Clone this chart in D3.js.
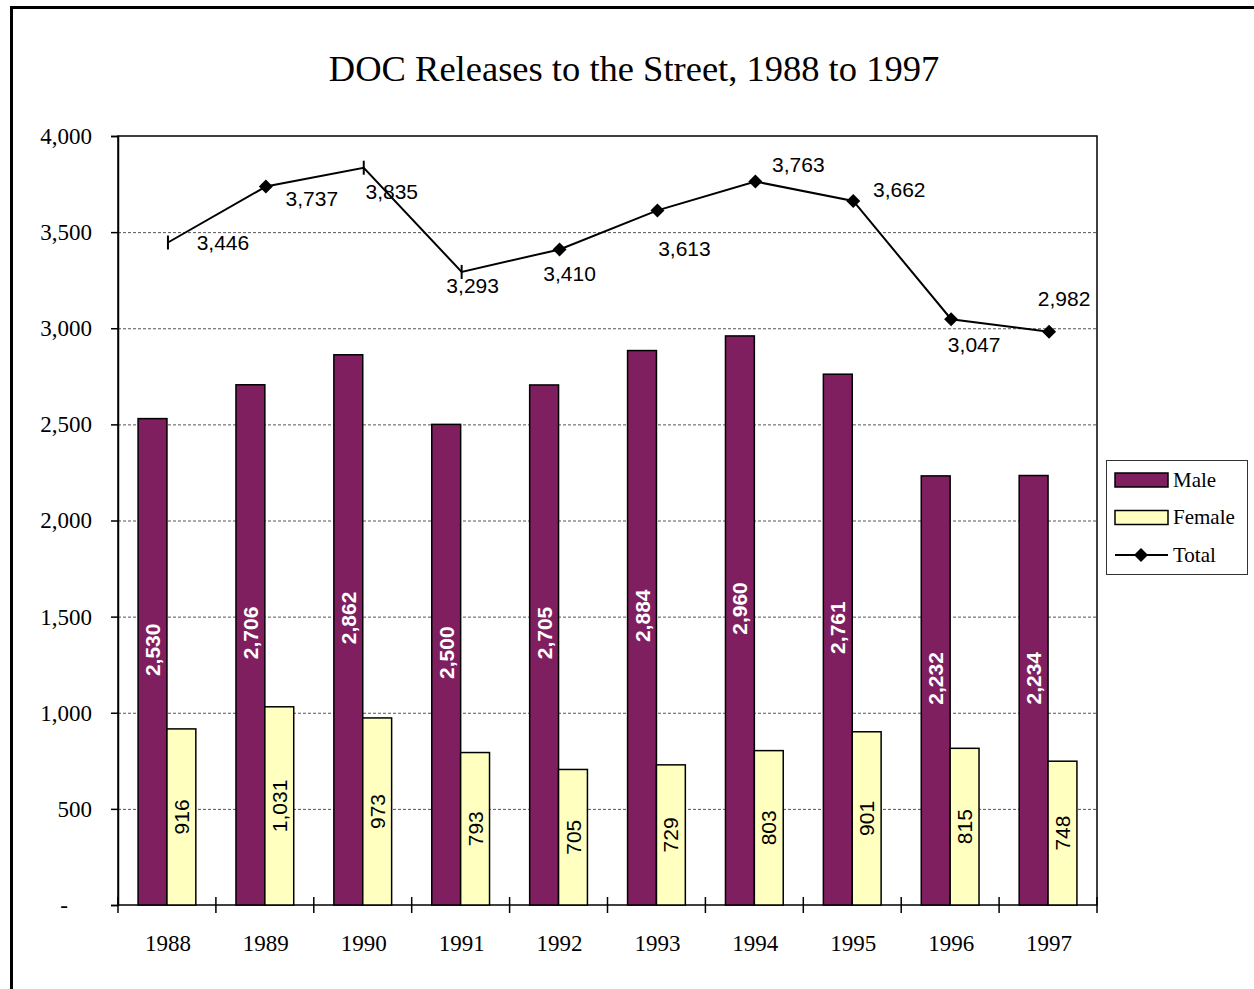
<!DOCTYPE html>
<html lang="en">
  <head>
    <meta charset="utf-8" />
    <script type="text/javascript" src="https://d3js.org/d3.v7.min.js"></script>
    <style>
      body { margin: 0; background: #fff; }
    </style>
  </head>

  <body>
    <script type="text/javascript">
      // data
      let years = ["1988", "1989", "1990", "1991", "1992", "1993", "1994", "1995", "1996", "1997"];
      let male = [2530, 2706, 2862, 2500, 2705, 2884, 2960, 2761, 2232, 2234];
      let female = [916, 1031, 973, 793, 705, 729, 803, 901, 815, 748];
      let total = [3446, 3737, 3835, 3293, 3410, 3613, 3763, 3662, 3047, 2982];
      let yTicks = [0, 500, 1000, 1500, 2000, 2500, 3000, 3500, 4000];

      let w = 1254;
      let h = 989;
      let plot = { left: 118, right: 1097, top: 136, bottom: 905 };

      let maleColor = "#7f1f5f";
      let femaleColor = "#ffffc0";
      let serif = "'Liberation Serif', 'Times New Roman', serif";
      let sans = "'Liberation Sans', Arial, sans-serif";
      let fmt = d3.format(",");

      // total label offsets (dx, dy) around each point, like the hand placed excel labels
      let totalLabelOffset = [[55, 0], [46, 12], [28, 24], [11, 14], [10, 24], [27, 38], [43, -17], [46, -12], [23, 25], [15, -33]];
      let tickMarker = ["1988", "1990", "1991"];

      let svg = d3
        .select("body")
        .append("svg")
        .attr("width", w)
        .attr("height", h);

      // outer frame
      svg
        .append("rect")
        .attr("x", 11.5)
        .attr("y", 7.5)
        .attr("width", w + 20)
        .attr("height", h + 20)
        .attr("fill", "white")
        .attr("stroke", "black")
        .attr("stroke-width", 3);

      svg
        .append("text")
        .text("DOC Releases to the Street, 1988 to 1997")
        .attr("x", 634)
        .attr("y", 81)
        .attr("text-anchor", "middle")
        .attr("font-family", serif)
        .attr("font-size", "36.5px")
        .attr("fill", "black");

      let x = d3.scaleBand().domain(years).range([plot.left, plot.right]).padding(0);
      let y = d3.scaleLinear().domain([0, 4000]).range([plot.bottom, plot.top]);

      let groupW = x.bandwidth() * 0.59;
      let xInner = d3.scaleBand().domain(["male", "female"]).range([0, groupW]);

      // gridlines
      svg
        .append("g")
        .selectAll("line")
        .data(yTicks.filter((d) => d > 0 && d < 4000))
        .join("line")
        .attr("x1", plot.left)
        .attr("x2", plot.right)
        .attr("y1", (d) => y(d) + 0.5)
        .attr("y2", (d) => y(d) + 0.5)
        .attr("stroke", "#555")
        .attr("stroke-width", 1)
        .attr("stroke-dasharray", "3,2");

      // plot frame
      svg
        .append("rect")
        .attr("x", plot.left)
        .attr("y", plot.top)
        .attr("width", plot.right - plot.left)
        .attr("height", plot.bottom - plot.top)
        .attr("fill", "none")
        .attr("stroke", "black")
        .attr("stroke-width", 1.5);

      // y axis
      let yAxis = d3
        .axisLeft(y)
        .tickValues(yTicks)
        .tickSize(7)
        .tickPadding(19)
        .tickFormat((d) => (d === 0 ? "-" : fmt(d)));
      let yg = svg.append("g").attr("transform", "translate(" + plot.left + ",0)").call(yAxis);
      yg.select(".domain").attr("stroke-width", 1.5);
      yg.selectAll(".tick line").attr("stroke-width", 1.5);
      yg.selectAll("text")
        .attr("font-family", serif)
        .attr("font-size", "23px")
        .attr("fill", "black");
      // accounting style dash for zero sits left of the digits
      yg.selectAll("text")
        .filter((d) => d === 0)
        .attr("dx", -24);

      // x axis ticks at band edges, crossing the axis
      let edges = years.map((d) => x(d)).concat([plot.right]);
      svg
        .append("g")
        .selectAll("line")
        .data(edges)
        .join("line")
        .attr("x1", (d) => d)
        .attr("x2", (d) => d)
        .attr("y1", plot.bottom - 8)
        .attr("y2", plot.bottom + 8)
        .attr("stroke", "black")
        .attr("stroke-width", 1.5);

      svg
        .append("g")
        .selectAll("text")
        .data(years)
        .join("text")
        .text((d) => d)
        .attr("x", (d) => x(d) + x.bandwidth() / 2 + 1)
        .attr("y", plot.bottom + 46)
        .attr("text-anchor", "middle")
        .attr("font-family", serif)
        .attr("font-size", "23px")
        .attr("fill", "black");

      // bars
      let groups = svg
        .append("g")
        .selectAll("g")
        .data(years)
        .join("g")
        .attr("transform", (d) => "translate(" + (x(d) + (x.bandwidth() - groupW) / 2) + ",0)");

      groups
        .append("rect")
        .attr("x", xInner("male"))
        .attr("y", (d, i) => y(male[i]))
        .attr("width", xInner.bandwidth())
        .attr("height", (d, i) => y(0) - y(male[i]))
        .attr("fill", maleColor)
        .attr("stroke", "black")
        .attr("stroke-width", 1.5);

      groups
        .append("rect")
        .attr("x", xInner("female"))
        .attr("y", (d, i) => y(female[i]))
        .attr("width", xInner.bandwidth())
        .attr("height", (d, i) => y(0) - y(female[i]))
        .attr("fill", femaleColor)
        .attr("stroke", "black")
        .attr("stroke-width", 1.5);

      // bar labels, rotated
      groups
        .append("text")
        .text((d, i) => fmt(male[i]))
        .attr("transform", (d, i) => {
          let cx = xInner("male") + xInner.bandwidth() / 2;
          let cy = y(male[i] / 2) - 12;
          return "translate(" + cx + "," + cy + ") rotate(-90)";
        })
        .attr("text-anchor", "middle")
        .attr("dy", "0.36em")
        .attr("font-family", sans)
        .attr("font-weight", "bold")
        .attr("font-size", "21px")
        .attr("fill", "white");

      groups
        .append("text")
        .text((d, i) => fmt(female[i]))
        .attr("transform", (d, i) => {
          let cx = xInner("female") + xInner.bandwidth() / 2;
          let cy = y(female[i] / 2);
          return "translate(" + cx + "," + cy + ") rotate(-90)";
        })
        .attr("text-anchor", "middle")
        .attr("dy", "0.36em")
        .attr("font-family", sans)
        .attr("font-size", "21px")
        .attr("fill", "black");

      // total line
      let cx = (d) => x(d) + x.bandwidth() / 2 + 1;
      let line = d3
        .line()
        .x((d, i) => cx(years[i]))
        .y((d) => y(d));

      svg
        .append("path")
        .datum(total)
        .attr("d", line)
        .attr("fill", "none")
        .attr("stroke", "black")
        .attr("stroke-width", 2);

      let diamond = "M0,-7L7,0L0,7L-7,0Z";
      let pts = svg
        .append("g")
        .selectAll("g")
        .data(total)
        .join("g")
        .attr("transform", (d, i) => "translate(" + cx(years[i]) + "," + y(d) + ")");

      pts.each(function (d, i) {
        let g = d3.select(this);
        if (tickMarker.includes(years[i])) {
          g.append("line")
            .attr("y1", -7)
            .attr("y2", 7)
            .attr("stroke", "black")
            .attr("stroke-width", 2);
        } else {
          g.append("path").attr("d", diamond).attr("fill", "black");
        }
      });

      pts
        .append("text")
        .text((d) => fmt(d))
        .attr("x", (d, i) => totalLabelOffset[i][0])
        .attr("y", (d, i) => totalLabelOffset[i][1])
        .attr("dy", "0.36em")
        .attr("text-anchor", "middle")
        .attr("font-family", sans)
        .attr("font-size", "21px")
        .attr("fill", "black");

      // legend
      let legend = svg.append("g").attr("transform", "translate(1106,460)");
      legend
        .append("rect")
        .attr("x", 0.5)
        .attr("y", 0.5)
        .attr("width", 141)
        .attr("height", 114)
        .attr("fill", "white")
        .attr("stroke", "#333")
        .attr("stroke-width", 1);

      let legendItems = [
        { name: "Male", type: "bar", color: maleColor },
        { name: "Female", type: "bar", color: femaleColor },
        { name: "Total", type: "line" },
      ];

      let li = legend
        .selectAll("g")
        .data(legendItems)
        .join("g")
        .attr("transform", (d, i) => "translate(0," + (20 + i * 37.5) + ")");

      li.filter((d) => d.type === "bar")
        .append("rect")
        .attr("x", 9)
        .attr("y", -7)
        .attr("width", 53)
        .attr("height", 14)
        .attr("fill", (d) => d.color)
        .attr("stroke", "black")
        .attr("stroke-width", 1.5);

      let ll = li.filter((d) => d.type === "line");
      ll.append("line")
        .attr("x1", 9)
        .attr("x2", 62)
        .attr("stroke", "black")
        .attr("stroke-width", 2);
      ll.append("path")
        .attr("d", diamond)
        .attr("transform", "translate(35,0)")
        .attr("fill", "black");

      li.append("text")
        .text((d) => d.name)
        .attr("x", 67)
        .attr("dy", "0.33em")
        .attr("font-family", serif)
        .attr("font-size", "21px")
        .attr("fill", "black");
    </script>
  </body>
</html>
